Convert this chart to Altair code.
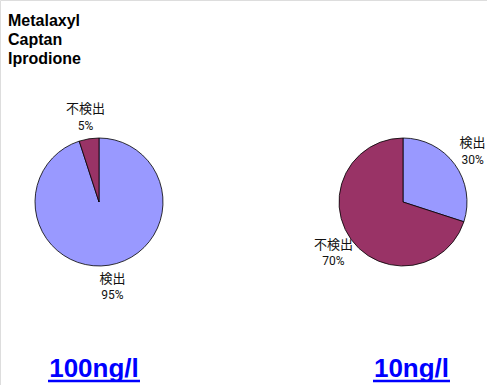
import altair as alt
import pandas as pd

# Detection results per spiking level
compounds = ["Metalaxyl", "Captan", "Iprodione"]
levels = ["100ng/l", "10ng/l"]
categories = ["検出", "不検出"]
detected_pct = [95, 30]
not_detected_pct = [5, 70]

W, H = 487, 385
centers = [(99, 202), (403, 202)]
pie_radius = 64
label_radius = 86
title_x = [94, 411.5]
title_half_width = [46, 38.5]

color_scale = alt.Scale(domain=categories, range=["#9999FF", "#993366"])

layers = []

# compound list in the top-left corner
layers.append(
    alt.Chart(pd.DataFrame({"t": ["\n".join(compounds)]}))
    .mark_text(align="left", baseline="alphabetic", font="Liberation Sans", fontWeight="bold",
               fontSize=16, lineHeight=19, color="black", lineBreak="\n")
    .encode(x=alt.value(8), y=alt.value(26), text="t:N")
)

for i, lvl in enumerate(levels):
    cx, cy = centers[i]
    vals = [detected_pct[i], not_detected_pct[i]]
    df = pd.DataFrame({
        "category": categories,
        "value": vals,
        "order": [0, 1],
        "pct": [f"{v}%" for v in vals],
    })
    base = alt.Chart(df).encode(
        x=alt.value(cx), y=alt.value(cy),
        theta=alt.Theta("value:Q", stack=True, scale=alt.Scale(domain=[0, 100])),
        order=alt.Order("order:Q"),
    )
    layers.append(
        base.mark_arc(outerRadius=pie_radius, stroke="black", strokeWidth=0.8)
        .encode(color=alt.Color("category:N", scale=color_scale, legend=None))
    )
    layers.append(
        base.mark_text(radius=label_radius, dy=-8, font="Noto Sans CJK JP",
                       fontSize=13, color="#111111")
        .encode(text="category:N")
    )
    layers.append(
        base.mark_text(radius=label_radius, dy=8.5, font="Roboto",
                       fontSize=12, color="#111111")
        .encode(text="pct:N")
    )
    # level caption, underlined like a hyperlink
    cap = pd.DataFrame({"t": [lvl]})
    layers.append(
        alt.Chart(cap)
        .mark_text(align="center", baseline="alphabetic", font="Liberation Sans",
                   fontWeight="bold", fontSize=26, color="#0000FF")
        .encode(x=alt.value(title_x[i]), y=alt.value(377), text="t:N")
    )
    layers.append(
        alt.Chart(cap)
        .mark_rule(color="#0000FF", strokeWidth=2.5)
        .encode(x=alt.value(title_x[i] - title_half_width[i]),
                x2=alt.value(title_x[i] + title_half_width[i]),
                y=alt.value(381))
    )

chart = (
    alt.layer(*layers)
    .resolve_scale(theta="shared")
    .properties(width=W, height=H, padding=0, autosize=alt.AutoSizeParams(type="none"))
    .configure_view(stroke=None)
    .configure(background="white")
)

chart.save("out.html", embed_options={"renderer": "svg", "actions": False})
